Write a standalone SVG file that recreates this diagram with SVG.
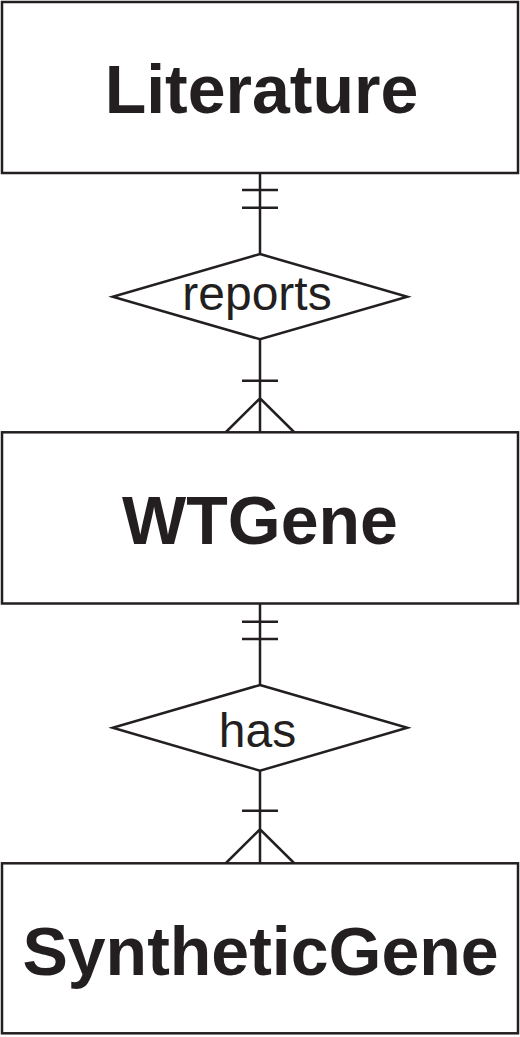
<svg xmlns="http://www.w3.org/2000/svg" width="520" height="1037" viewBox="0 0 520 1037">
  <style>
    .box { fill: #ffffff; stroke: #231f20; stroke-width: 2.5; }
    .rel { fill: #ffffff; stroke: #231f20; stroke-width: 2.5; stroke-linejoin: miter; }
    .line { fill: none; stroke: #231f20; stroke-width: 2.5; }
    .ent { font-family: "Liberation Sans", Arial, sans-serif; font-weight: bold; font-size: 68px; fill: #231f20; text-anchor: middle; }
    .lbl { font-family: "Liberation Sans", Arial, sans-serif; font-size: 48px; fill: #231f20; text-anchor: middle; }
  </style>
  <rect width="520" height="1037" fill="#ffffff"/>
  <g id="connectors">
    <path class="line" d="M260 173 V254 M242 190 H278 M242 207.7 H278"/>
    <path class="line" d="M260 339 V432 M242 380.7 H278 M226 432 L260 398.3 L294 432"/>
    <path class="line" d="M260 603.5 V685 M242 621.7 H278 M242 639 H278"/>
    <path class="line" d="M260 770.7 V863 M242 810.7 H278 M226 863 L260 829.3 L294 863"/>
  </g>
  <g id="literature">
    <rect class="box" x="2" y="2" width="516" height="171"/>
    <text class="ent" x="261.5" y="113">Literature</text>
  </g>
  <g id="reports">
    <polygon class="rel" points="260,254 407.3,296.7 260,339.3 112.7,296.7"/>
    <text class="lbl" x="257" y="310">reports</text>
  </g>
  <g id="wtgene">
    <rect class="box" x="2" y="432.3" width="516" height="171.2"/>
    <text class="ent" x="260" y="544">WTGene</text>
  </g>
  <g id="has">
    <polygon class="rel" points="260,685 407.3,727.8 260,770.7 112.7,727.8"/>
    <text class="lbl" x="257.5" y="747">has</text>
  </g>
  <g id="syntheticgene">
    <rect class="box" x="2" y="863.3" width="516" height="170"/>
    <text class="ent" x="260.5" y="975">SyntheticGene</text>
  </g>
</svg>
